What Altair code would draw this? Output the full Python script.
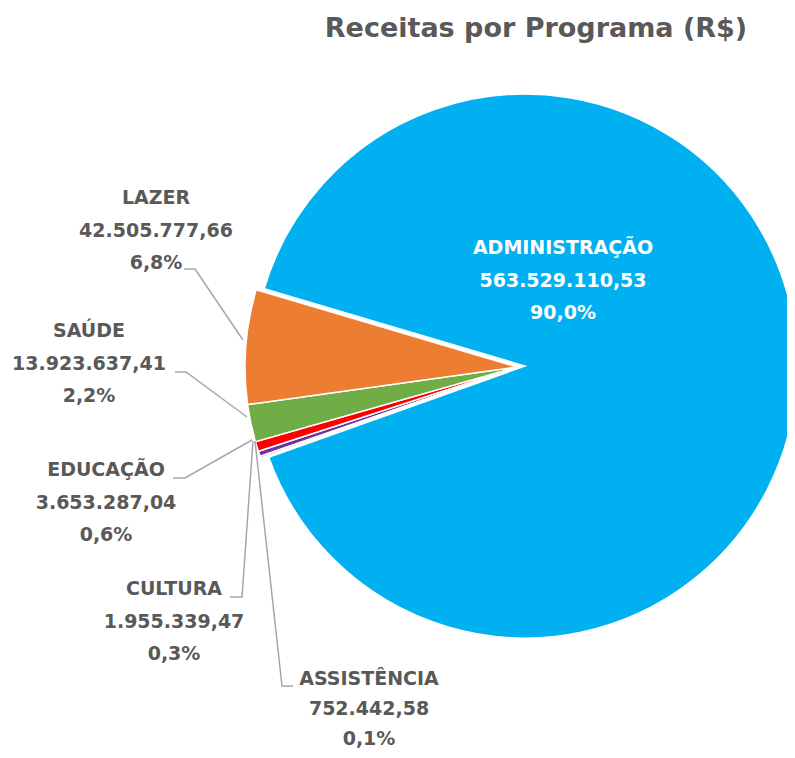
import math
import altair as alt
import pandas as pd

# ---- data ----
programas = ["ADMINISTRAÇÃO", "ASSISTÊNCIA", "CULTURA", "EDUCAÇÃO", "SAÚDE", "LAZER"]
receitas = [563529110.53, 752442.58, 1955339.47, 3653287.04, 13923637.41, 42505777.66]
cores = ["#00B0F0", "#B4A7D6", "#7030A0", "#FF0000", "#70AD47", "#ED7D31"]
titulo = "Receitas por Programa (R$)"

total = sum(receitas)


def brl(v):
    s = f"{v:,.2f}"
    return s.replace(",", "X").replace(".", ",").replace("X", ".")


def pct(v):
    return f"{v / total * 100:.1f}".replace(".", ",") + "%"


# ---- layout (page px; plot coords = page - OFF) ----
OFF = 8
W, H = 779, 742
centro_admin = (525 - OFF, 366 - OFF)
centro_outros = (517 - OFF, 367 - OFF)
raio = 272
inicio = math.radians(286.5)
FONT = "DejaVu Sans"
CINZA = "#595959"

# (center x, first line y, line spacing)
rotulo_pos = {
    "ADMINISTRAÇÃO": (563, 248, 32.5),
    "LAZER": (156, 198, 32.5),
    "SAÚDE": (89, 331, 32.5),
    "EDUCAÇÃO": (106, 470, 32.5),
    "CULTURA": (174, 589, 32.5),
    "ASSISTÊNCIA": (369, 679, 30),
}

guias = {
    "LAZER": [(184, 269), (195, 269), (243, 340)],
    "SAÚDE": [(175, 372), (186, 372), (247, 417)],
    "EDUCAÇÃO": [(173, 478), (185, 478), (252, 440)],
    "CULTURA": [(230, 597), (242, 597), (253, 441)],
    "ASSISTÊNCIA": [(293, 686), (282, 686), (255, 441)],
}

# ---- tables ----
df_pie = pd.DataFrame({
    "programa": programas,
    "receita": receitas,
    "ordem": list(range(len(programas))),
})

linhas = []
for p, v in zip(programas, receitas):
    x0, y0, esp = rotulo_pos[p]
    for i, t in enumerate([p, brl(v), pct(v)]):
        linhas.append({"programa": p, "texto": t, "px": x0 - OFF, "py": y0 - OFF + i * esp,
                       "grupo": "dentro" if p == "ADMINISTRAÇÃO" else "fora"})
df_txt = pd.DataFrame(linhas)

pts = []
for p, lista in guias.items():
    for k, (x, y) in enumerate(lista):
        pts.append({"programa": p, "k": k, "px": x - OFF, "py": y - OFF})
df_guias = pd.DataFrame(pts)

# ---- chart ----
cor = alt.Color("programa:N", scale=alt.Scale(domain=programas, range=cores), legend=None)
theta = alt.Theta("t0:Q", scale=alt.Scale(domain=[0, total], range=[inicio, inicio + 2 * math.pi]))

base = alt.Chart(df_pie).transform_stack(
    stack="receita", as_=["t0", "t1"], groupby=[], sort=[alt.SortField("ordem", order="ascending")]
)

arc_admin = base.transform_filter(alt.datum.programa == "ADMINISTRAÇÃO").mark_arc(
    outerRadius=raio, stroke="white", strokeWidth=1.5
).encode(theta=theta, theta2="t1:Q", color=cor,
         x=alt.value(centro_admin[0]), y=alt.value(centro_admin[1]))

arc_outros = base.transform_filter(alt.datum.programa != "ADMINISTRAÇÃO").mark_arc(
    outerRadius=raio, stroke="white", strokeWidth=1.5
).encode(theta=theta, theta2="t1:Q", color=cor,
         x=alt.value(centro_outros[0]), y=alt.value(centro_outros[1]))

linhas_guia = alt.Chart(df_guias).mark_line(color="#A6A6A6", strokeWidth=1.5).encode(
    x=alt.X("px:Q", scale=None),
    y=alt.Y("py:Q", scale=None),
    detail="programa:N",
    order="k:Q",
)

txt_fora = alt.Chart(df_txt).transform_filter(alt.datum.grupo == "fora").mark_text(
    font=FONT, fontWeight="bold", fontSize=19, color=CINZA, align="center", baseline="middle"
).encode(x=alt.X("px:Q", scale=None), y=alt.Y("py:Q", scale=None), text="texto:N")

txt_dentro = alt.Chart(df_txt).transform_filter(alt.datum.grupo == "dentro").mark_text(
    font=FONT, fontWeight="bold", fontSize=19, color="white", align="center", baseline="middle"
).encode(x=alt.X("px:Q", scale=None), y=alt.Y("py:Q", scale=None), text="texto:N")

txt_titulo = alt.Chart(pd.DataFrame({"t": [titulo]})).mark_text(
    font=FONT, fontWeight="bold", fontSize=27, color=CINZA, align="center", baseline="middle"
).encode(x=alt.value(536 - OFF), y=alt.value(29 - OFF), text="t:N")

chart = alt.layer(arc_outros, arc_admin, linhas_guia, txt_fora, txt_dentro, txt_titulo).properties(
    width=W, height=H, padding=0, autosize=alt.AutoSizeParams(type="none")
).configure_view(stroke=None).resolve_scale(theta="shared")

chart.save("out.html", embed_options={"renderer": "svg", "actions": False})
